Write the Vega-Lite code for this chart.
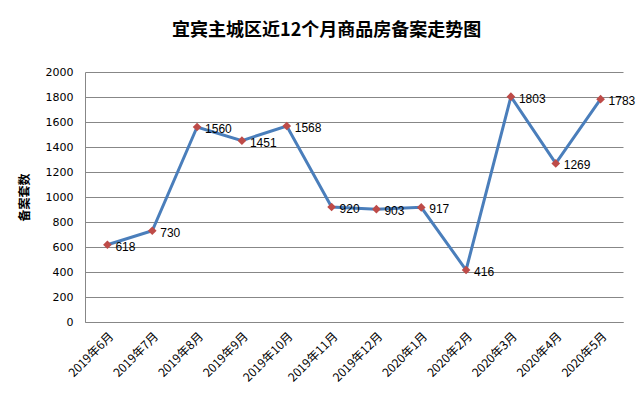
{
  "$schema": "https://vega.github.io/schema/vega-lite/v6.json",
  "autosize": {"type": "none"},
  "width": 538,
  "height": 250,
  "padding": {"left": 85, "top": 72, "right": 18, "bottom": 75},
  "background": "white",
  "title": {
    "text": "宜宾主城区近12个月商品房备案走势图",
    "font": "Noto Sans CJK SC",
    "fontSize": 18,
    "fontWeight": "bold",
    "color": "#000000",
    "anchor": "middle",
    "frame": "bounds",
    "offset": 26
  },
  "config": {
    "view": {"stroke": null},
    "font": "Noto Sans CJK SC"
  },
  "data": {
    "values": [
      {"month": "2019年6月", "value": 618},
      {"month": "2019年7月", "value": 730},
      {"month": "2019年8月", "value": 1560},
      {"month": "2019年9月", "value": 1451},
      {"month": "2019年10月", "value": 1568},
      {"month": "2019年11月", "value": 920},
      {"month": "2019年12月", "value": 903},
      {"month": "2020年1月", "value": 917},
      {"month": "2020年2月", "value": 416},
      {"month": "2020年3月", "value": 1803},
      {"month": "2020年4月", "value": 1269},
      {"month": "2020年5月", "value": 1783}
    ]
  },
  "encoding": {
    "x": {
      "field": "month",
      "type": "ordinal",
      "sort": null,
      "scale": {"type": "band", "paddingInner": 0, "paddingOuter": 0},
      "axis": {
        "title": null,
        "labelAngle": -45,
        "labelAlign": "right",
        "labelBaseline": "middle",
        "labelFontSize": 12,
        "labelFont": "Noto Sans CJK SC",
        "labelColor": "#000000",
        "labelPadding": 12,
        "labelOffset": 4,
        "ticks": false,
        "domainColor": "#878787",
        "grid": false
      }
    },
    "y": {
      "field": "value",
      "type": "quantitative",
      "scale": {"domain": [0, 2000], "nice": false},
      "axis": {
        "title": "备案套数",
        "titleFont": "Noto Sans CJK SC",
        "titleFontSize": 12,
        "titleFontWeight": "bold",
        "titleColor": "#000000",
        "titlePadding": 14,
        "format": "d",
        "values": [0, 200, 400, 600, 800, 1000, 1200, 1400, 1600, 1800, 2000],
        "labelFont": "DejaVu Sans",
        "labelFontSize": 11,
        "labelColor": "#000000",
        "labelPadding": 12,
        "ticks": false,
        "domainColor": "#878787",
        "grid": true,
        "gridColor": "#878787",
        "gridWidth": 1
      }
    }
  },
  "layer": [
    {
      "mark": {"type": "line", "color": "#4A7EBB", "strokeWidth": 3}
    },
    {
      "mark": {"type": "point", "shape": "diamond", "filled": true, "color": "#BE4B48", "size": 75, "opacity": 1}
    },
    {
      "mark": {"type": "text", "align": "left", "baseline": "middle", "dx": 8, "dy": 2, "fontSize": 12, "color": "#000000", "font": "Liberation Sans"},
      "encoding": {"text": {"field": "value", "type": "quantitative"}}
    }
  ]
}
